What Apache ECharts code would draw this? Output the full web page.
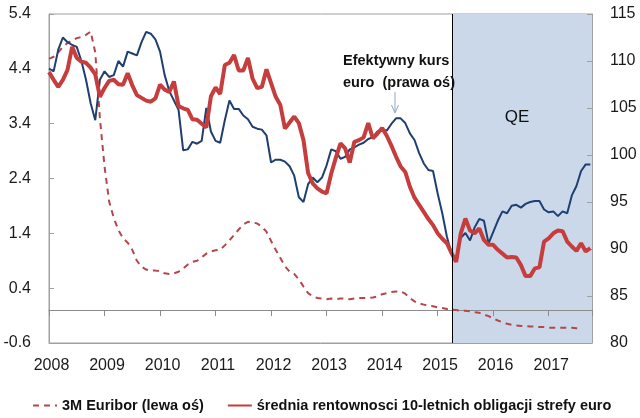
<!DOCTYPE html>
<html><head><meta charset="utf-8">
<script src="https://cdn.jsdelivr.net/npm/echarts@6/dist/echarts.min.js"></script>
<style>html,body{margin:0;padding:0;background:#fff}#c{width:640px;height:418px}</style>
</head><body><div id="c"></div><script>
// monthly data starting January 2008
const startYear = 2008;
const yearLabels = ['2008','2009','2010','2011','2012','2013','2014','2015','2016','2017'];
const leftTicks = [-0.6, 0.4, 1.4, 2.4, 3.4, 4.4, 5.4];
const rightTicks = [80, 85, 90, 95, 100, 105, 110, 115];
const qeStart = 2015.27;
const xEnd = 2017.78;

const euribor = [
 4.58,4.62,4.70,4.80,4.87,4.92,4.96,4.98,5.02,5.08,
 4.70,3.50,2.62,1.98,1.68,1.46,1.31,1.23,1.10,0.90,
 0.79,0.74,0.72,0.72,0.71,0.67,0.66,0.67,0.70,0.76,
 0.83,0.88,0.90,0.96,1.03,1.07,1.09,1.10,1.18,1.27,
 1.37,1.47,1.56,1.61,1.60,1.58,1.52,1.43,1.26,1.10,
 0.95,0.80,0.70,0.66,0.56,0.43,0.31,0.25,0.22,0.21,
 0.20,0.21,0.20,0.21,0.21,0.20,0.21,0.22,0.22,0.22,
 0.23,0.25,0.29,0.31,0.33,0.34,0.34,0.30,0.22,0.16,
 0.12,0.10,0.08,0.07,0.05,0.04,0.02,0.01,0.00,-0.01,
 -0.01,-0.02,-0.04,-0.05,-0.08,-0.11,-0.15,-0.19,-0.22,-0.25,
 -0.27,-0.28,-0.29,-0.29,-0.30,-0.30,-0.31,-0.31,-0.32,-0.32,
 -0.32,-0.32,-0.32,-0.32,-0.33,-0.33
];
const bondYield = [
 4.34,4.20,4.07,4.20,4.38,4.80,4.60,4.53,4.51,4.42,
 4.30,3.89,4.05,4.18,4.20,4.12,4.11,4.32,4.10,3.92,
 3.87,3.82,3.80,3.86,4.11,4.02,3.98,4.17,3.72,3.68,
 3.65,3.48,3.47,3.40,3.33,3.90,4.06,3.94,4.47,4.51,
 4.65,4.37,4.37,4.60,4.22,4.05,4.07,4.39,4.14,3.89,
 3.74,3.31,3.42,3.53,3.41,3.10,2.50,2.31,2.22,2.16,
 2.13,2.49,2.78,3.04,2.95,2.69,3.07,3.10,3.15,3.41,
 3.13,3.22,3.32,3.18,3.00,2.80,2.62,2.52,2.25,2.05,
 1.92,1.79,1.66,1.55,1.40,1.30,1.22,1.04,0.88,1.40,
 1.67,1.45,1.40,1.49,1.28,1.19,1.19,1.10,1.03,0.96,
 0.97,0.96,0.82,0.62,0.62,0.76,0.78,1.25,1.31,1.40,
 1.45,1.44,1.25,1.16,1.08,1.22,1.07,1.13
];
const euroRate = [
 109.2,108.9,111.2,112.5,112.0,111.7,111.5,110.0,108.0,105.5,
 103.7,108.0,108.9,108.3,108.5,110.0,109.4,111.0,110.8,110.6,
 112.0,113.1,112.9,112.3,111.0,108.5,106.8,105.8,104.8,100.5,
 100.6,101.4,101.2,101.5,105.0,102.5,101.5,101.3,103.7,105.8,
 104.9,104.9,104.2,103.8,103.0,102.8,102.7,102.1,99.2,99.5,
 99.5,99.3,98.8,97.8,95.5,95.0,96.9,97.6,97.1,97.6,
 98.9,100.6,100.4,99.6,99.8,100.6,100.8,101.1,101.3,101.7,
 101.9,102.5,102.7,102.6,103.3,103.9,103.9,103.4,102.3,101.6,
 100.2,99.1,98.4,98.3,95.9,93.8,91.3,89.5,89.0,91.2,
 91.7,90.9,92.3,93.2,93.0,90.6,91.8,93.0,94.0,93.8,
 94.6,94.7,94.4,94.8,95.0,95.1,95.1,94.2,93.9,94.0,
 93.5,94.0,93.8,95.7,96.7,98.3,99.0,99.0
];

const toPts = arr => arr.map((v, i) => [startYear + i / 12, v]);
const FONT = "'Liberation Sans', Arial, sans-serif";
const axisGrey = '#a0a0a0';

const chart = echarts.init(document.getElementById('c'), null, {renderer: 'canvas'});
const yearFmt = v => {
  const r = Math.round(v);
  return Math.abs(v - r) < 1e-6 && yearLabels.indexOf(String(r)) >= 0 ? String(r) : '';
};
chart.setOption({
  animation: false,
  backgroundColor: '#ffffff',
  grid: {left: 49, right: 48, top: 14, bottom: 75, show: true, borderColor: axisGrey, borderWidth: 1, backgroundColor: 'transparent'},
  legend: {
    data: ['3M Euribor (lewa oś)', 'średnia rentownosci 10-letnich obligacji strefy euro'],
    left: 27, top: 393, itemWidth: 24, itemHeight: 14, itemGap: 23,
    itemStyle: {opacity: 0},
    textStyle: {fontFamily: FONT, fontSize: 14.5, fontWeight: 'bold', color: '#111'}
  },
  xAxis: [{
    type: 'value', min: startYear, max: xEnd, interval: 1, position: 'bottom', z: 2,
    axisLine: {show: true, onZero: false, lineStyle: {color: axisGrey, width: 1}},
    axisTick: {show: false}, splitLine: {show: false},
    axisLabel: {formatter: yearFmt, showMaxLabel: false, fontFamily: FONT, fontSize: 16, color: '#1a1a1a', margin: 15, padding: [0, 0, 0, 5]}
  }, {
    type: 'value', min: startYear, max: xEnd, interval: 1, position: 'bottom', z: 2,
    axisLine: {show: true, onZero: true, onZeroAxisIndex: 0, lineStyle: {color: '#8c8c8c', width: 1}},
    axisTick: {show: true, inside: false, length: 6, lineStyle: {color: '#8c8c8c'}},
    axisLabel: {show: false}, splitLine: {show: false}
  }],
  yAxis: [{
    type: 'value', min: -0.6, max: 5.4, interval: 1, position: 'left', z: 2,
    axisLine: {show: true, lineStyle: {color: axisGrey}},
    axisTick: {show: true, inside: true, length: 5, lineStyle: {color: axisGrey}},
    splitLine: {show: false},
    axisLabel: {formatter: v => v.toFixed(1), fontFamily: FONT, fontSize: 16, color: '#1a1a1a', margin: 18}
  }, {
    type: 'value', min: 80, max: 115, interval: 5, position: 'right', z: 2,
    axisLine: {show: true, lineStyle: {color: axisGrey}},
    axisTick: {show: true, inside: true, length: 5, lineStyle: {color: axisGrey}},
    splitLine: {show: false},
    axisLabel: {fontFamily: FONT, fontSize: 16, color: '#1a1a1a', margin: 18}
  }],
  series: [{
    name: '3M Euribor (lewa oś)', type: 'line', xAxisIndex: 0, yAxisIndex: 0,
    data: toPts(euribor), symbol: 'none', z: 3,
    lineStyle: {color: '#b5474b', width: 2, type: [6, 5]},
    itemStyle: {color: '#b5474b'},
    markArea: {silent: true, z: 1, itemStyle: {color: '#cad8ea', opacity: 1},
      data: [[{xAxis: qeStart}, {xAxis: xEnd}]]},
    markLine: {silent: true, symbol: 'none', label: {show: false},
      lineStyle: {color: '#000', width: 1, type: 'solid'},
      data: [{xAxis: qeStart}]}
  }, {
    name: 'Efektywny kurs euro', type: 'line', xAxisIndex: 0, yAxisIndex: 1,
    data: toPts(euroRate), symbol: 'none', z: 3,
    lineStyle: {color: '#1f3f70', width: 2}, itemStyle: {color: '#1f3f70'}
  }, {
    name: 'średnia rentownosci 10-letnich obligacji strefy euro', type: 'line', xAxisIndex: 0, yAxisIndex: 0,
    data: toPts(bondYield), symbol: 'none', z: 4,
    lineStyle: {color: '#c63d3d', width: 4}, itemStyle: {color: '#c63d3d'}
  }],
  graphic: [
    {type: 'text', z: 10, left: 343, top: 50,
     style: {text: 'Efektywny kurs\neuro  (prawa oś)', font: 'bold 14.5px ' + FONT, lineHeight: 22, fill: '#111'}},
    {type: 'line', z: 10, shape: {x1: 395, y1: 92, x2: 395, y2: 112}, style: {stroke: '#8fa8c8', lineWidth: 1}},
    {type: 'polyline', z: 10, shape: {points: [[391.5, 105], [395, 113], [398.5, 105]]}, style: {stroke: '#8fa8c8', lineWidth: 1, fill: null}},
    {type: 'text', z: 10, x: 517, y: 117,
     style: {text: 'QE', font: '17px ' + FONT, fill: '#111', textAlign: 'center', textVerticalAlign: 'middle'}}
  ]
});
</script></body></html>
